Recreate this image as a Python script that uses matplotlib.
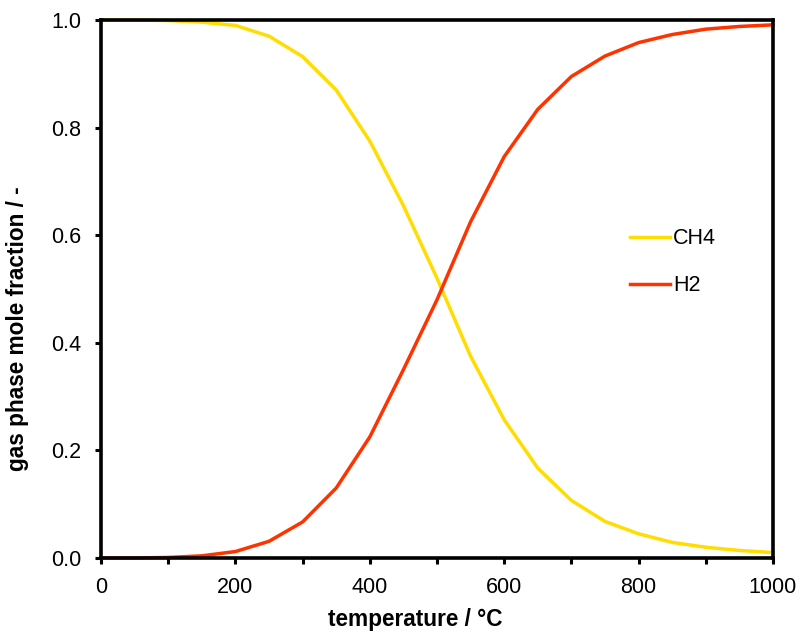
import matplotlib
matplotlib.use("Agg")
import matplotlib.pyplot as plt
from matplotlib.ticker import MultipleLocator

plt.rcParams['font.family'] = ['Liberation Sans', 'DejaVu Sans']

temperature = [0, 50, 100, 150, 200, 250, 300, 350, 400, 450, 500,
               550, 600, 650, 700, 750, 800, 850, 900, 950, 1000]
ch4 = [1.000, 1.000, 0.999, 0.996, 0.990, 0.970, 0.932, 0.870, 0.775, 0.655, 0.520,
       0.375, 0.257, 0.167, 0.107, 0.068, 0.045, 0.029, 0.020, 0.014, 0.010]
h2 = [0.000, 0.000, 0.001, 0.004, 0.012, 0.031, 0.067, 0.130, 0.225, 0.350, 0.480,
      0.625, 0.746, 0.834, 0.895, 0.933, 0.958, 0.973, 0.983, 0.988, 0.991]

fig = plt.figure(figsize=(8.01, 6.33), dpi=100)
ax = fig.add_axes([0.1261, 0.1185, 0.8389, 0.8499])

ax.plot(temperature, ch4, color='#FFDD00', lw=2.5, label='CH4', clip_on=False)
ax.plot(temperature, h2, color='#FF3300', lw=2.5, label='H2', clip_on=False)

ax.set_xlim(0, 1000)
ax.set_ylim(0, 1)
ax.xaxis.set_major_locator(MultipleLocator(200))
ax.xaxis.set_minor_locator(MultipleLocator(100))
ax.yaxis.set_major_locator(MultipleLocator(0.2))
ax.yaxis.set_major_formatter(plt.FormatStrFormatter('%.1f'))

for s in ax.spines.values():
    s.set_linewidth(2.6)
ax.tick_params(which='both', direction='out', width=2.2, length=4.5,
               labelsize=15.5, pad=9.5)

ax.set_xlabel('temperature / °C', fontsize=16.3, fontweight='bold')
ax.set_ylabel('gas phase mole fraction / -', fontsize=16.3, fontweight='bold')
ax.xaxis.set_label_coords(0.468, -0.093)
ax.yaxis.set_label_coords(-0.107, 0.4257)

ax.legend(loc='upper left', bbox_to_anchor=(0.787, 0.613), frameon=False,
          fontsize=15.5, handlelength=1.86, handletextpad=0.14,
          labelspacing=1.2, borderpad=0, borderaxespad=0)

fig.savefig('out.png', dpi=100)
